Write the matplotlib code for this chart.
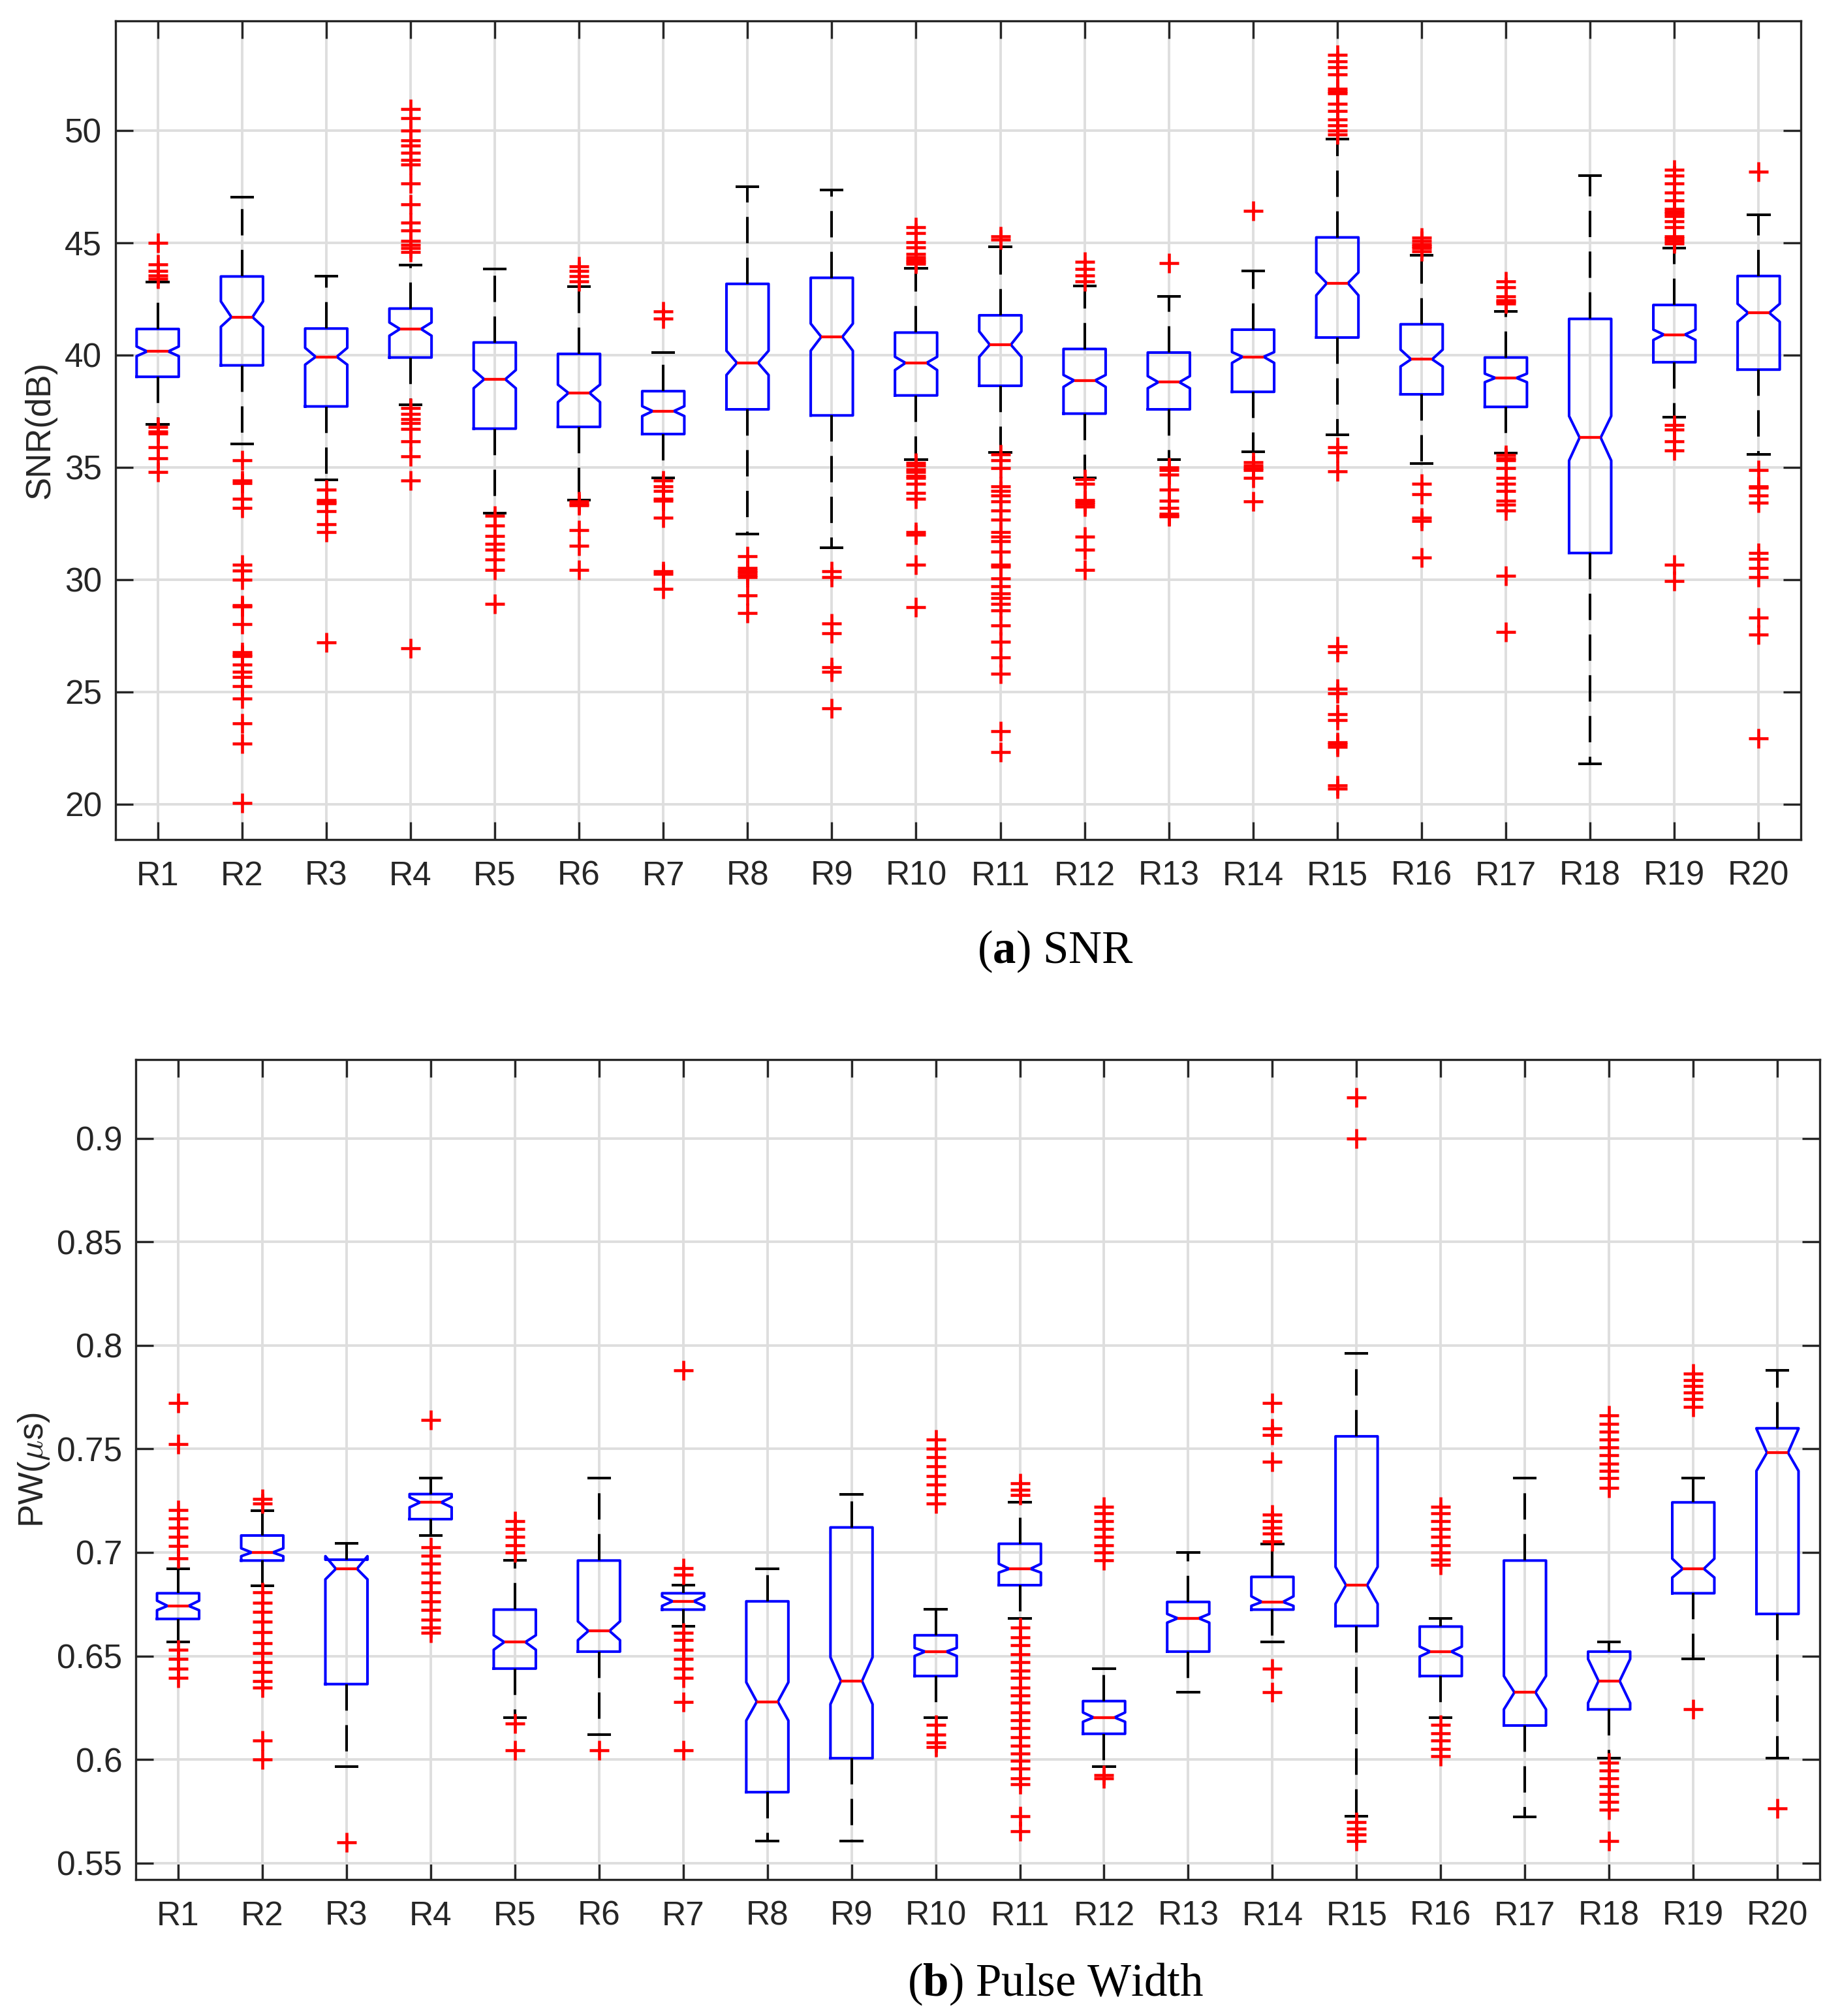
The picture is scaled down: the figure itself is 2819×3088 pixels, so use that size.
import matplotlib.pyplot as plt
from matplotlib.ticker import FuncFormatter

plt.rcParams['font.family'] = ['Liberation Sans', 'DejaVu Sans']
plt.rcParams['mathtext.bf'] = 'Liberation Serif:bold'
plt.rcParams['mathtext.rm'] = 'Liberation Serif'

labels = ['R1', 'R2', 'R3', 'R4', 'R5', 'R6', 'R7', 'R8', 'R9', 'R10',
          'R11', 'R12', 'R13', 'R14', 'R15', 'R16', 'R17', 'R18', 'R19', 'R20']

# (a) SNR, dB
snr_q1 = [39.03, 39.54, 37.71, 39.89, 36.72, 36.80, 36.48, 37.58, 37.31, 38.20,
          38.63, 37.39, 37.58, 38.36, 40.78, 38.25, 37.69, 31.18, 39.68, 39.35]
snr_med = [40.16, 41.69, 39.92, 41.16, 38.92, 38.31, 37.50, 39.65, 40.81, 39.65,
           40.46, 38.87, 38.79, 39.92, 43.20, 39.81, 38.98, 36.32, 40.91, 41.88]
snr_q3 = [41.16, 43.50, 41.18, 42.07, 40.56, 40.05, 38.39, 43.17, 43.44, 41.00,
          41.77, 40.27, 40.11, 41.13, 45.24, 41.37, 39.89, 41.61, 42.23, 43.52]
snr_lo = [36.90, 36.05, 34.44, 37.77, 32.96, 33.55, 34.54, 32.04, 31.42, 35.35,
          35.67, 34.54, 35.35, 35.70, 36.45, 35.16, 35.62, 21.80, 37.23, 35.56]
snr_hi = [43.25, 47.04, 43.52, 44.00, 43.82, 43.06, 40.11, 47.50, 47.34, 43.87,
          44.81, 43.09, 42.61, 43.74, 49.62, 44.44, 41.94, 47.98, 44.76, 46.24]
snr_cilo = [39.95, 41.26, 39.57, 40.86, 38.52, 37.90, 37.28, 39.11, 40.19, 39.33,
            39.92, 38.58, 38.52, 39.65, 42.66, 39.49, 38.79, 35.30, 40.67, 41.48]
snr_cihi = [40.38, 42.39, 40.32, 41.45, 39.33, 38.68, 37.72, 40.19, 41.40, 39.92,
            41.05, 39.11, 39.06, 40.13, 43.68, 40.24, 39.17, 37.28, 41.13, 42.28]
snr_fliers = [
    [45.0, 44.03, 43.76, 43.55, 43.4, 36.8, 36.6, 36.5, 35.9, 35.4, 34.8],
    [35.3, 34.4, 34.3, 33.6, 33.2, 30.65, 30.4, 30.0, 28.85, 28.8, 28.0, 26.75, 26.65,
     26.6, 26.2, 25.9, 25.65, 25.25, 24.7, 23.6, 22.7, 20.05],
    [34.0, 33.55, 33.45, 33.38, 33.05, 32.45, 32.1, 27.2],
    [50.95, 50.55, 50.0, 49.55, 49.33, 49.0, 48.7, 48.5, 47.63, 46.72, 45.9, 45.56,
     45.08, 44.9, 44.75, 44.6, 37.63, 37.37, 37.15, 36.96, 36.7, 36.16, 35.5, 34.4, 26.95],
    [32.85, 32.4, 31.94, 31.6, 31.32, 30.9, 30.43, 28.9],
    [43.95, 43.74, 43.52, 43.28, 33.47, 33.35, 33.3, 32.2, 31.5, 30.43],
    [41.94, 41.61, 34.41, 34.14, 33.95, 33.6, 33.5, 32.74, 30.38, 30.25, 29.57],
    [31.05, 30.5, 30.4, 30.3, 30.2, 30.1, 29.3, 28.5],
    [30.38, 30.1, 28.04, 27.6, 26.08, 25.89, 24.27],
    [45.7, 45.43, 45.03, 44.8, 44.5, 44.35, 44.25, 44.15, 44.08, 35.2, 35.08, 34.9, 34.8,
     34.6, 34.54, 34.27, 33.87, 33.6, 32.1, 32.0, 30.65, 28.76],
    [45.3, 45.13, 35.56, 35.3, 34.95, 34.14, 33.95, 33.74, 33.47, 33.06, 32.66, 32.12,
     31.91, 31.72, 31.24, 30.65, 30.56, 30.05, 29.7, 29.38, 29.17, 28.9, 28.63, 27.96,
     27.23, 26.53, 25.81, 23.25, 22.31],
    [44.14, 43.82, 43.55, 43.28, 34.46, 34.27, 33.55, 33.45, 33.35, 33.25, 31.91, 31.32, 30.43],
    [44.09, 35.0, 34.87, 34.68, 34.0, 33.52, 33.2, 32.93, 32.85, 32.8],
    [46.42, 35.22, 35.08, 34.95, 34.87, 34.54, 33.47],
    [53.36, 53.09, 52.82, 52.5, 51.85, 51.75, 51.65, 51.2, 50.86, 50.48, 50.24, 50.0,
     49.81, 35.89, 35.67, 34.81, 27.02, 26.75, 25.13, 24.92, 24.0, 23.74, 22.75, 22.65,
     22.55, 20.83, 20.67],
    [45.24, 45.08, 44.95, 44.85, 44.75, 44.62, 34.27, 33.79, 32.74, 32.6, 30.99],
    [43.28, 43.01, 42.61, 42.45, 42.39, 42.28, 35.54, 35.4, 35.3, 34.95, 34.54, 34.27,
     33.95, 33.52, 33.33, 33.06, 30.16, 27.66],
    [],
    [48.25, 47.98, 47.63, 47.23, 46.9, 46.5, 46.4, 46.3, 46.2, 45.97, 45.7, 45.3, 45.2,
     45.08, 44.97, 36.88, 36.69, 36.16, 35.75, 30.65, 29.92],
    [48.17, 34.87, 34.14, 34.1, 33.74, 33.41, 31.18, 30.91, 30.51, 30.1, 28.31, 27.55, 22.93],
]

# (b) Pulse width, us
pw_q1 = [0.6679, 0.6961, 0.6364, 0.7161, 0.6439, 0.6521, 0.6724, 0.5842, 0.6006, 0.6403,
         0.6842, 0.6124, 0.6521, 0.6724, 0.6645, 0.6403, 0.6164, 0.6242, 0.6803, 0.6703]
pw_med = [0.6742, 0.7000, 0.6921, 0.7242, 0.6567, 0.6621, 0.6764, 0.6279, 0.6379, 0.6521,
          0.6921, 0.6203, 0.6682, 0.6761, 0.6842, 0.6521, 0.6324, 0.6379, 0.6921, 0.7482]
pw_q3 = [0.6803, 0.7082, 0.6965, 0.7282, 0.6724, 0.6961, 0.6803, 0.6764, 0.7121, 0.6600,
         0.7042, 0.6282, 0.6761, 0.6882, 0.7561, 0.6642, 0.6961, 0.6521, 0.7242, 0.7600]
pw_lo = [0.6567, 0.6839, 0.5964, 0.7082, 0.6203, 0.6121, 0.6642, 0.5606, 0.5606, 0.6203,
         0.6682, 0.5964, 0.6324, 0.6567, 0.5727, 0.6203, 0.5724, 0.6006, 0.6485, 0.6006]
pw_hi = [0.6921, 0.7203, 0.7045, 0.7361, 0.6961, 0.7361, 0.6842, 0.6921, 0.7282, 0.6724,
         0.7242, 0.6439, 0.7000, 0.7042, 0.7961, 0.6682, 0.7361, 0.6567, 0.7361, 0.7879]
pw_cilo = [0.6721, 0.6982, 0.6870, 0.7218, 0.6530, 0.6576, 0.6742, 0.6188, 0.6267, 0.6500,
           0.6903, 0.6182, 0.6661, 0.6742, 0.6752, 0.6497, 0.6242, 0.6273, 0.6879, 0.7394]
pw_cihi = [0.6767, 0.7020, 0.6982, 0.7267, 0.6600, 0.6667, 0.6788, 0.6373, 0.6494, 0.6539,
           0.6945, 0.6227, 0.6703, 0.6788, 0.6930, 0.6545, 0.6403, 0.6485, 0.6970, 0.7598]
pw_fliers = [
    [0.7721, 0.7524, 0.7206, 0.7165, 0.7121, 0.7076, 0.703, 0.697, 0.653, 0.6485, 0.644, 0.6394],
    [0.7258, 0.7236, 0.6809, 0.6758, 0.6712, 0.6667, 0.6615, 0.6561, 0.6515, 0.647,
     0.6424, 0.6379, 0.6348, 0.6091, 0.6],
    [0.56],
    [0.7639, 0.7024, 0.6985, 0.6945, 0.6903, 0.6855, 0.6809, 0.6764, 0.6721, 0.6676,
     0.6636, 0.6612],
    [0.7152, 0.7115, 0.7076, 0.7036, 0.7, 0.6173, 0.6045],
    [0.6045],
    [0.7879, 0.6924, 0.6894, 0.6612, 0.6576, 0.653, 0.6485, 0.644, 0.6394, 0.6279, 0.6045],
    [],
    [],
    [0.7545, 0.75, 0.7461, 0.7415, 0.737, 0.7327, 0.7282, 0.7236, 0.6167, 0.6121,
     0.6082, 0.6061],
    [0.7333, 0.7303, 0.7279, 0.6636, 0.6591, 0.6552, 0.6509, 0.647, 0.643, 0.6394,
     0.6348, 0.6309, 0.6273, 0.6227, 0.6188, 0.6152, 0.6106, 0.6067, 0.603, 0.5994,
     0.5955, 0.5909, 0.5879, 0.5727, 0.5652],
    [0.7221, 0.7188, 0.7152, 0.7115, 0.7076, 0.7036, 0.7, 0.6961, 0.5924, 0.5909],
    [],
    [0.7721, 0.76, 0.7567, 0.7439, 0.7182, 0.7152, 0.7121, 0.7091, 0.7055, 0.6439, 0.6324],
    [0.9197, 0.9, 0.5697, 0.5667, 0.5636, 0.5606],
    [0.7221, 0.7188, 0.7152, 0.7115, 0.7076, 0.7036, 0.7, 0.6964, 0.694, 0.6167,
     0.6127, 0.6091, 0.6052, 0.6015],
    [],
    [0.7661, 0.7621, 0.7582, 0.7545, 0.7509, 0.747, 0.743, 0.7394, 0.7358, 0.7312,
     0.5985, 0.5945, 0.5909, 0.587, 0.5833, 0.5794, 0.5758, 0.5606],
    [0.7864, 0.7833, 0.7803, 0.7773, 0.7742, 0.7703, 0.6242],
    [0.5764],
]

snr_ticks = [20, 25, 30, 35, 40, 45, 50]
pw_ticks = [0.55, 0.6, 0.65, 0.7, 0.75, 0.8, 0.85, 0.9]

AX_COLOR = '#262626'


def make_stats(q1, med, q3, lo, hi, cilo, cihi, fliers):
    stats = []
    for i in range(len(med)):
        stats.append({'q1': q1[i], 'med': med[i], 'q3': q3[i],
                      'whislo': lo[i], 'whishi': hi[i],
                      'cilo': cilo[i], 'cihi': cihi[i],
                      'fliers': fliers[i], 'label': labels[i]})
    return stats


def draw_box(ax, stats, ylim, yticks, ylabel, label_x, math_family='dejavusans'):
    ax.bxp(stats, positions=range(1, len(stats) + 1), widths=0.5,
           shownotches=True, showfliers=True,
           boxprops=dict(color='blue', linewidth=2.9),
           medianprops=dict(color='red', linewidth=3.1),
           whiskerprops=dict(color='black', linewidth=2.9, linestyle=(0, (10, 5.5))),
           capprops=dict(color='black', linewidth=2.9),
           flierprops=dict(marker='+', markeredgecolor='red', markersize=22,
                           markeredgewidth=3.3, linestyle='none'))
    ax.set_xlim(0.5, len(stats) + 0.5)
    ax.set_ylim(ylim)
    ax.set_yticks(yticks)
    ax.yaxis.set_major_formatter(FuncFormatter(lambda v, p: '%g' % v))
    ax.set_axisbelow(True)
    ax.grid(True, color='#dedede', linewidth=2.8)
    ax.tick_params(direction='in', length=19.4, width=2.4, top=True, right=True,
                   labelsize=37, colors=AX_COLOR)
    ax.tick_params(axis='x', pad=23)
    ax.tick_params(axis='y', pad=15)
    for sp in ax.spines.values():
        sp.set_linewidth(2.4)
        sp.set_color(AX_COLOR)
    ax.set_ylabel(ylabel, fontsize=38, color=AX_COLOR, math_fontfamily=math_family)
    ax.yaxis.set_label_coords(label_x, 0.5)


fig = plt.figure(figsize=(28.19, 30.88), dpi=100)

ax1 = fig.add_axes([0.0628, 0.5836, 0.9159, 0.4061])
draw_box(ax1, make_stats(snr_q1, snr_med, snr_q3, snr_lo, snr_hi, snr_cilo, snr_cihi, snr_fliers),
         (18.42, 54.89), snr_ticks, 'SNR(dB)', -0.0352)

ax2 = fig.add_axes([0.0739, 0.0677, 0.9150, 0.4066])
draw_box(ax2, make_stats(pw_q1, pw_med, pw_q3, pw_lo, pw_hi, pw_cilo, pw_cihi, pw_fliers),
         (0.542, 0.938), pw_ticks, r'PW($\mu$s)', -0.0501, math_family='cm')

fig.text(0.5736, 0.5223, r'($\mathbf{a}$) SNR', ha='center', va='baseline', fontsize=51,
         family='Liberation Serif', math_fontfamily='custom', color='black')
fig.text(0.5736, 0.0100, r'($\mathbf{b}$) Pulse Width', ha='center', va='baseline', fontsize=51,
         family='Liberation Serif', math_fontfamily='custom', color='black')

fig.savefig('out.png', dpi=100)
